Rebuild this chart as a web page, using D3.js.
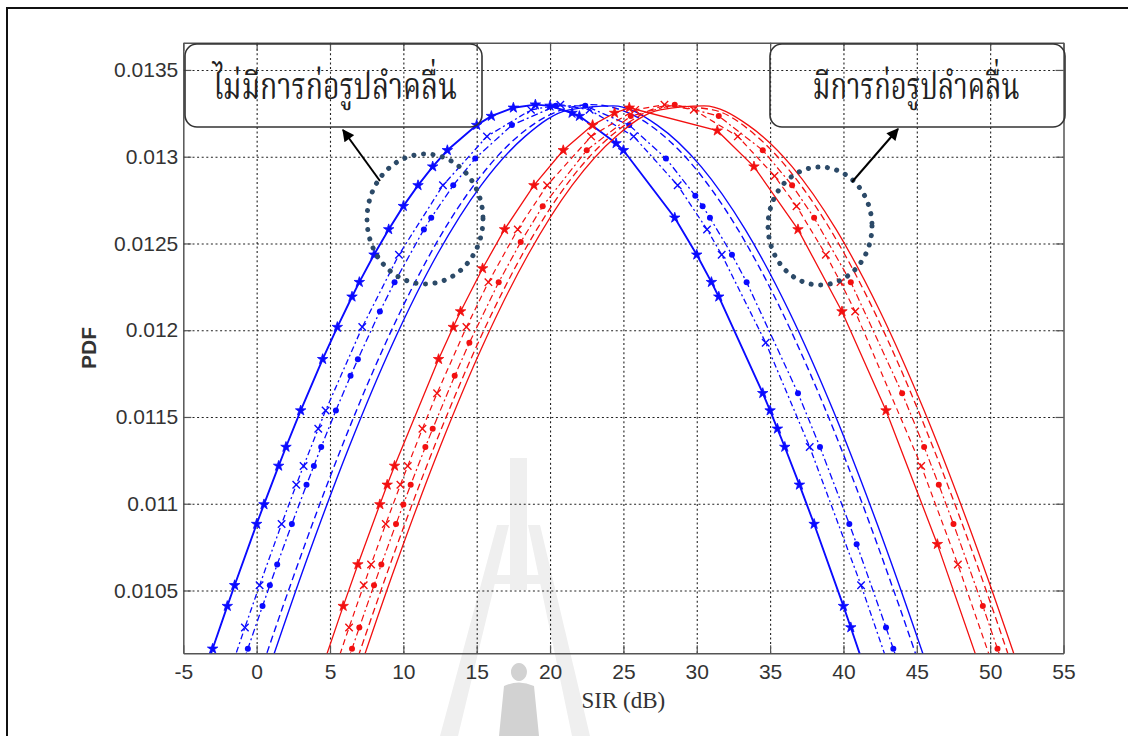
<!DOCTYPE html>
<html>
<head>
<meta charset="utf-8">
<script src="https://cdn.jsdelivr.net/npm/d3@7"></script>
<style>
  body { margin: 0; background: #fff; }
  svg { display: block; }
</style>
</head>
<body>
<svg id="chart" width="1128" height="736"></svg>
<script>
// axis ticks
const sirTicks = [-5, 0, 5, 10, 15, 20, 25, 30, 35, 40, 45, 50, 55];
const pdfTicks = [0.0105, 0.011, 0.0115, 0.012, 0.0125, 0.013, 0.0135];
const pdfTickLabels = ["0.0105", "0.011", "0.0115", "0.012", "0.0125", "0.013", "0.0135"];

// without beamforming (blue)
const blueStarSir = [-4.0, -3.0, -2.0, -1.5, 0.0, 0.5, 1.5, 2.0, 3.0, 4.5, 5.5, 6.5, 7.0, 8.0, 9.0, 10.0, 11.0, 12.0, 13.0, 15.0, 16.0, 17.5, 19.0, 20.0, 21.5, 22.0, 24.5, 25.0, 28.5, 30.0, 31.0, 31.5, 34.5, 35.0, 35.5, 36.0, 37.0, 38.0, 40.0, 40.5, 42.0];
const blueStarPdf = [0.009913, 0.010164, 0.010410, 0.010530, 0.010883, 0.010996, 0.011218, 0.011327, 0.011537, 0.011833, 0.012018, 0.012193, 0.012277, 0.012435, 0.012581, 0.012715, 0.012835, 0.012943, 0.013037, 0.013182, 0.013234, 0.013282, 0.013300, 0.013293, 0.013252, 0.013234, 0.013077, 0.013037, 0.012648, 0.012435, 0.012277, 0.012193, 0.011637, 0.011537, 0.011432, 0.011327, 0.011109, 0.010883, 0.010410, 0.010287, 0.009913];

const blueCrossSir = [-2.3, -0.8, 0.2, 1.7, 2.7, 3.2, 4.2, 4.7, 7.2, 9.7, 12.7, 15.7, 18.7, 20.7, 22.7, 25.7, 28.7, 30.7, 31.7, 34.7, 37.7, 41.2, 43.7];
const blueCrossPdf = [0.009913, 0.010287, 0.010530, 0.010883, 0.011109, 0.011218, 0.011432, 0.011537, 0.012018, 0.012435, 0.012835, 0.013117, 0.013270, 0.013300, 0.013270, 0.013117, 0.012835, 0.012581, 0.012435, 0.011928, 0.011327, 0.010530, 0.009913];

const blueDotSir = [-1.6, -0.6, 0.4, 0.9, 1.4, 2.4, 3.4, 3.9, 4.4, 5.4, 6.4, 6.9, 8.4, 9.4, 11.4, 11.9, 13.4, 14.9, 17.4, 20.4, 22.4, 25.4, 27.9, 29.9, 30.4, 30.9, 32.4, 33.4, 36.9, 38.4, 40.4, 40.9, 42.9, 43.4, 44.4];
const blueDotPdf = [0.009913, 0.010164, 0.010410, 0.010530, 0.010650, 0.010883, 0.011109, 0.011218, 0.011327, 0.011537, 0.011737, 0.011833, 0.012108, 0.012277, 0.012581, 0.012648, 0.012835, 0.012990, 0.013182, 0.013293, 0.013293, 0.013182, 0.012990, 0.012775, 0.012715, 0.012648, 0.012435, 0.012277, 0.011637, 0.011327, 0.010883, 0.010767, 0.010287, 0.010164, 0.009913];

const blueDashSir = [-1.2, 1.8, 4.8, 7.8, 10.8, 13.8, 16.8, 19.8, 22.8, 25.8, 28.8, 31.8, 34.8, 37.8, 40.8, 43.8, 46.8];
const blueDashPdf = [0.009658, 0.010410, 0.011109, 0.011737, 0.012277, 0.012715, 0.013037, 0.013234, 0.013300, 0.013234, 0.013037, 0.012715, 0.012277, 0.011737, 0.011109, 0.010410, 0.009658];

const blueSolidSir = [0.3, 3.3, 6.3, 9.3, 12.3, 15.3, 18.3, 21.3, 24.3, 27.3, 30.3, 33.3, 36.3, 39.3, 42.3, 45.3, 48.3];
const blueSolidPdf = [0.009913, 0.010650, 0.011327, 0.011928, 0.012435, 0.012835, 0.013117, 0.013270, 0.013293, 0.013182, 0.012943, 0.012581, 0.012108, 0.011537, 0.010883, 0.010164, 0.009398];

// with beamforming (red)
const redStarSir = [3.9, 5.9, 6.9, 8.4, 8.9, 9.4, 12.4, 13.4, 13.9, 15.4, 16.9, 18.9, 20.9, 22.9, 24.4, 25.4, 31.4, 33.9, 36.9, 39.9, 42.9, 46.4, 49.9];
const redStarPdf = [0.009913, 0.010410, 0.010650, 0.010996, 0.011109, 0.011218, 0.011833, 0.012018, 0.012108, 0.012356, 0.012581, 0.012835, 0.013037, 0.013182, 0.013252, 0.013282, 0.013150, 0.012943, 0.012581, 0.012108, 0.011537, 0.010767, 0.009913];

const redCrossSir = [4.8, 6.3, 7.3, 7.8, 8.8, 9.8, 10.3, 11.3, 12.3, 14.3, 15.8, 17.8, 19.8, 22.8, 25.8, 27.8, 29.8, 32.8, 35.3, 36.8, 38.8, 39.8, 40.8, 45.3, 47.8, 50.3, 50.8];
const redCrossPdf = [0.009913, 0.010287, 0.010530, 0.010650, 0.010883, 0.011109, 0.011218, 0.011432, 0.011637, 0.012018, 0.012277, 0.012581, 0.012835, 0.013117, 0.013270, 0.013300, 0.013270, 0.013117, 0.012889, 0.012715, 0.012435, 0.012277, 0.012108, 0.011218, 0.010650, 0.010039, 0.009913];

const redDotSir = [5.5, 6.5, 7.0, 8.0, 8.5, 9.5, 10.0, 10.5, 11.5, 12.0, 13.5, 14.5, 16.5, 18.0, 19.5, 22.5, 25.5, 28.5, 31.5, 34.5, 36.5, 38.0, 40.5, 44.0, 45.5, 46.5, 47.5, 49.5, 50.5, 51.5];
const redDotPdf = [0.009913, 0.010164, 0.010287, 0.010530, 0.010650, 0.010883, 0.010996, 0.011109, 0.011327, 0.011432, 0.011737, 0.011928, 0.012277, 0.012508, 0.012715, 0.013037, 0.013234, 0.013300, 0.013234, 0.013037, 0.012835, 0.012648, 0.012277, 0.011637, 0.011327, 0.011109, 0.010883, 0.010410, 0.010164, 0.009913];

const redDashSir = [4.1, 7.1, 10.1, 13.1, 16.1, 19.1, 22.1, 25.1, 28.1, 31.1, 34.1, 37.1, 40.1, 43.1, 46.1, 49.1, 52.1];
const redDashPdf = [0.009398, 0.010164, 0.010883, 0.011537, 0.012108, 0.012581, 0.012943, 0.013182, 0.013293, 0.013270, 0.013117, 0.012835, 0.012435, 0.011928, 0.011327, 0.010650, 0.009913];

const redSolidSir = [3.5, 6.5, 9.5, 12.5, 15.5, 18.5, 21.5, 24.5, 27.5, 30.5, 33.5, 36.5, 39.5, 42.5, 45.5, 48.5, 51.5, 54.5];
const redSolidPdf = [0.009136, 0.009913, 0.010650, 0.011327, 0.011928, 0.012435, 0.012835, 0.013117, 0.013270, 0.013293, 0.013182, 0.012943, 0.012581, 0.012108, 0.011537, 0.010883, 0.010164, 0.009398];

// annotation texts
const labelNoBeam = "ไม่มีการก่อรูปลำคลื่น";
const labelBeam = "มีการก่อรูปลำคลื่น";

const BLUE = "#0a0aff";
const RED = "#f21010";

const series = [
  {sir: blueSolidSir, pdf: blueSolidPdf, color: BLUE, dash: null, width: 1.4, marker: null, smooth: true},
  {sir: blueDashSir, pdf: blueDashPdf, color: BLUE, dash: "7,4", width: 1.4, marker: null, smooth: true},
  {sir: blueDotSir, pdf: blueDotPdf, color: BLUE, dash: "7,3,2,3", width: 1.3, marker: "dot"},
  {sir: blueCrossSir, pdf: blueCrossPdf, color: BLUE, dash: "6,3,2,3", width: 1.3, marker: "cross"},
  {sir: blueStarSir, pdf: blueStarPdf, color: BLUE, dash: null, width: 1.9, marker: "star"},
  {sir: redSolidSir, pdf: redSolidPdf, color: RED, dash: null, width: 1.3, marker: null, smooth: true},
  {sir: redDashSir, pdf: redDashPdf, color: RED, dash: "7,4", width: 1.3, marker: null, smooth: true},
  {sir: redDotSir, pdf: redDotPdf, color: RED, dash: "7,3,2,3", width: 1.2, marker: "dot"},
  {sir: redCrossSir, pdf: redCrossPdf, color: RED, dash: "6,4", width: 1.2, marker: "cross"},
  {sir: redStarSir, pdf: redStarPdf, color: RED, dash: null, width: 1.3, marker: "star"}
];

const svg = d3.select("#chart");

const x = d3.scaleLinear().domain([-5, 55]).range([183.3, 1063.5]);
const y = d3.scaleLinear().domain([0.010138, 0.013657]).range([653.3, 42.7]);
const [x0, x1] = x.range();
const [y0, y1] = y.range();

const defs = svg.append("defs");
defs.append("clipPath").attr("id", "plotClip")
  .append("rect")
  .attr("x", x0).attr("y", y1)
  .attr("width", x1 - x0).attr("height", y0 - y1);

defs.append("marker")
  .attr("id", "arrowHead")
  .attr("viewBox", "0 0 10 10")
  .attr("refX", 9).attr("refY", 5)
  .attr("markerWidth", 14).attr("markerHeight", 12)
  .attr("markerUnits", "userSpaceOnUse")
  .attr("orient", "auto")
  .append("path")
  .attr("d", "M0,0 L10,5 L0,10 Z")
  .attr("fill", "#000");

// outer frame (only left and top edges are visible)
svg.append("path")
  .attr("d", "M7,736 V8 H1128")
  .attr("fill", "none")
  .attr("stroke", "#111")
  .attr("stroke-width", 2);

// faint watermark behind the plot
const wm = svg.append("g").attr("class", "watermark");
wm.append("path")
  .attr("d", "M510,458 H527 V590 H510 Z M497,525 H509 L458,736 H440 Z M528,525 H540 L590,736 H572 Z M486,575 H550 V584 H486 Z")
  .attr("fill", "#efefef");
wm.append("path")
  .attr("d", "M519,663 a8,9 0 1,1 -0.1,0 Z M504,686 Q519,679 534,686 L539,736 H499 Z")
  .attr("fill", "#d2d2d2");

// grid
const grid = svg.append("g").attr("class", "grid");
grid.append("g")
  .attr("transform", `translate(0,${y0})`)
  .call(d3.axisBottom(x).tickValues(sirTicks.slice(1, -1)).tickSize(-(y0 - y1)).tickFormat(""));
grid.append("g")
  .attr("transform", `translate(${x0},0)`)
  .call(d3.axisLeft(y).tickValues(pdfTicks).tickSize(-(x1 - x0)).tickFormat(""));
grid.selectAll(".domain").remove();
grid.selectAll("line")
  .attr("stroke", "#222")
  .attr("stroke-width", 1.1)
  .attr("stroke-dasharray", "2,2.6");

// axes with inner ticks
const axisColor = "#555";
const fmtPdf = d => pdfTickLabels[pdfTicks.indexOf(d)];

const gx = svg.append("g")
  .attr("transform", `translate(0,${y0})`)
  .call(d3.axisBottom(x).tickValues(sirTicks).tickSize(-8).tickSizeOuter(0).tickPadding(11).tickFormat(d => String(d)));
const gy = svg.append("g")
  .attr("transform", `translate(${x0},0)`)
  .call(d3.axisLeft(y).tickValues(pdfTicks).tickSize(-8).tickSizeOuter(0).tickPadding(5).tickFormat(fmtPdf));
const gTop = svg.append("g")
  .attr("transform", `translate(0,${y1})`)
  .call(d3.axisTop(x).tickValues(sirTicks).tickSize(-8).tickSizeOuter(0).tickFormat(""));
const gRight = svg.append("g")
  .attr("transform", `translate(${x1},0)`)
  .call(d3.axisRight(y).tickValues(pdfTicks).tickSize(-8).tickSizeOuter(0).tickFormat(""));

[gx, gy, gTop, gRight].forEach(g => {
  g.select(".domain").attr("stroke", axisColor).attr("stroke-width", 1.5);
  g.selectAll(".tick line").attr("stroke", axisColor).attr("stroke-width", 1.2);
  g.selectAll("text")
    .attr("fill", "#333")
    .style("font-family", "'Liberation Sans', Arial, sans-serif")
    .style("font-size", "21px");
});

// axis titles
svg.append("text")
  .attr("transform", `translate(96,${(y0 + y1) / 2}) rotate(-90)`)
  .attr("text-anchor", "middle")
  .style("font-family", "'Liberation Sans', Arial, sans-serif")
  .style("font-size", "21px")
  .style("font-weight", "bold")
  .attr("fill", "#333")
  .text("PDF");

svg.append("text")
  .attr("x", (x0 + x1) / 2)
  .attr("y", 708)
  .attr("text-anchor", "middle")
  .style("font-family", "'Liberation Serif', 'Times New Roman', serif")
  .style("font-size", "23px")
  .attr("fill", "#333")
  .text("SIR (dB)");

// curves
const plot = svg.append("g").attr("clip-path", "url(#plotClip)");

series.forEach(s => {
  const pts = s.sir.map((v, i) => [v, s.pdf[i]]);
  const line = d3.line()
    .x(d => x(d[0]))
    .y(d => y(d[1]))
    .curve(s.smooth ? d3.curveMonotoneX : d3.curveLinear);

  plot.append("path")
    .datum(pts)
    .attr("d", line)
    .attr("fill", "none")
    .attr("stroke", s.color)
    .attr("stroke-width", s.width)
    .attr("stroke-dasharray", s.dash);

  if (!s.marker) return;
  const mk = plot.append("g").selectAll("g").data(pts).join("g")
    .attr("transform", d => `translate(${x(d[0])},${y(d[1])})`);

  if (s.marker === "dot") {
    mk.append("circle").attr("r", 3).attr("fill", s.color);
  } else if (s.marker === "cross") {
    mk.append("path")
      .attr("d", d3.symbol(d3.symbolTimes, 38))
      .attr("fill", "none")
      .attr("stroke", s.color)
      .attr("stroke-width", 1.4);
  } else if (s.marker === "star") {
    mk.append("path")
      .attr("d", d3.symbol(d3.symbolStar, 34))
      .attr("fill", s.color)
      .attr("stroke", s.color)
      .attr("stroke-width", 0.8);
  }
});

// annotations: dotted circles, arrows and rounded label boxes
const note = svg.append("g").attr("class", "annotations");

const circles = [
  {cx: 425, cy: 219, rx: 58, ry: 65},
  {cx: 820, cy: 226, rx: 52, ry: 59}
];
note.selectAll("ellipse").data(circles).join("ellipse")
  .attr("cx", d => d.cx).attr("cy", d => d.cy)
  .attr("rx", d => d.rx).attr("ry", d => d.ry)
  .attr("fill", "none")
  .attr("stroke", "#2c4a68")
  .attr("stroke-width", 5)
  .attr("stroke-linecap", "round")
  .attr("stroke-dasharray", "0.1,9.5");

const arrows = [
  {x1: 380, y1: 181, x2: 343, y2: 130},
  {x1: 852, y1: 182, x2: 898, y2: 129}
];
note.selectAll("line.arrow").data(arrows).join("line")
  .attr("class", "arrow")
  .attr("x1", d => d.x1).attr("y1", d => d.y1)
  .attr("x2", d => d.x2).attr("y2", d => d.y2)
  .attr("stroke", "#000")
  .attr("stroke-width", 2)
  .attr("marker-end", "url(#arrowHead)");

const boxes = [
  {x: 185, y: 44, w: 297, h: 83, text: labelNoBeam, tx: 335, tw: 244},
  {x: 770, y: 44, w: 295, h: 83, text: labelBeam, tx: 916, tw: 207}
];
const box = note.selectAll("g.box").data(boxes).join("g").attr("class", "box");
box.append("rect")
  .attr("x", d => d.x).attr("y", d => d.y)
  .attr("width", d => d.w).attr("height", d => d.h)
  .attr("rx", 12).attr("ry", 12)
  .attr("fill", "none")
  .attr("stroke", "#333")
  .attr("stroke-width", 1.6);
box.append("text")
  .attr("x", d => d.tx)
  .attr("y", 99)
  .attr("text-anchor", "middle")
  .attr("textLength", d => d.tw)
  .attr("lengthAdjust", "spacingAndGlyphs")
  .style("font-family", "'Noto Serif Thai', 'Noto Sans Thai', 'Noto Looped Thai', 'Loma', 'Garuda', 'Tlwg Typist', 'DejaVu Sans', sans-serif")
  .style("font-size", "38px")
  .attr("fill", "#222")
  .text(d => d.text);
</script>
</body>
</html>
